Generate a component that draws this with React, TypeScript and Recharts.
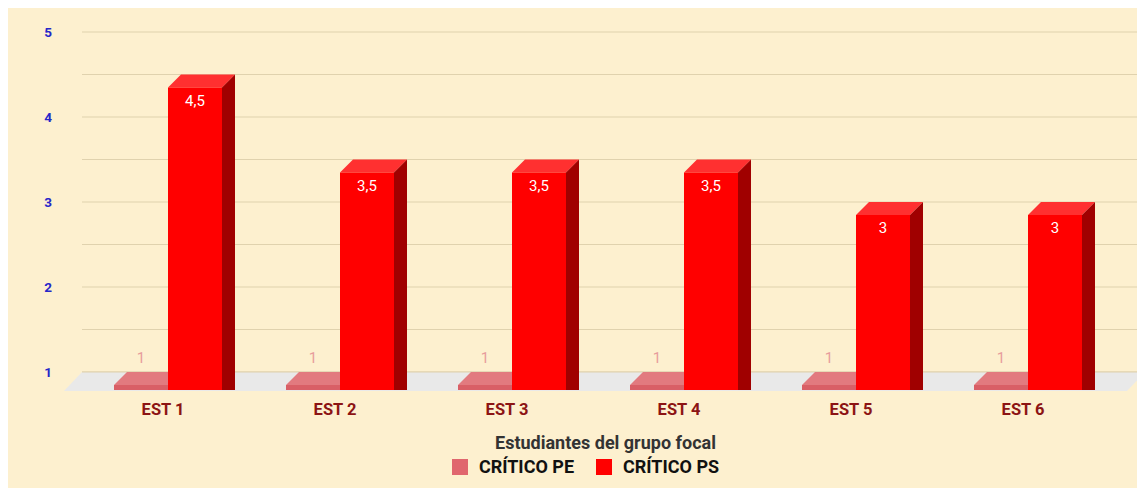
import { BarChart, Bar, XAxis, YAxis, CartesianGrid, Legend, LabelList, ReferenceArea } from "recharts";

// datos
const estudiantes = ["EST 1", "EST 2", "EST 3", "EST 4", "EST 5", "EST 6"];
const criticoPE = [1, 1, 1, 1, 1, 1];
const criticoPS = [4.5, 3.5, 3.5, 3.5, 3, 3];
const ticksY = [1, 1.5, 2, 2.5, 3, 3.5, 4, 4.5, 5];

const data = estudiantes.map((est, i) => ({ est, pe: criticoPE[i], ps: criticoPS[i] }));

const FONT = "Roboto, 'Noto Sans', sans-serif";
const DX = 13; // profundidad 3D de las barras
const DY = 13;
const SLAB = 5;
const PAD_L = 13;
const PAD_R = 18;

const caras = {
  pe: { front: "#d95f66", top: "#e27a7f", side: "#b94a50", legend: "#e0666e", label: "#e79c9c" },
  ps: { front: "#ff0000", top: "#ff3030", side: "#a00000", legend: "#ff0000", label: "#ffffff" },
};

const fmt = (v: number) => String(v).replace(".", ",");

function barra3D(tipo: "pe" | "ps") {
  return (props: any) => {
    const { x, y, width, height } = props;
    const c = caras[tipo];
    const base = y + height;
    const fx = x - DX;
    const fy = y + DY;
    const fb = base + DY + SLAB;
    return (
      <g>
        <polygon points={`${x},${y} ${x + width},${y} ${fx + width},${fy} ${fx},${fy}`} fill={c.top} />
        <polygon points={`${x + width},${y} ${fx + width},${fy} ${fx + width},${fb} ${x + width},${fb}`} fill={c.side} />
        <rect x={fx} y={fy} width={width} height={fb - fy} fill={c.front} />
      </g>
    );
  };
}

// piso gris en perspectiva bajo las barras (cubre también el padding del eje)
const piso = (props: any) => {
  const { x, y, width, height } = props;
  const b = y + height;
  const l = x - PAD_L;
  const r = x + width + PAD_R;
  return (
    <g>
      <polygon points={`${l},${b} ${r},${b} ${r - 18},${b + 19} ${l - 18},${b + 19}`} fill="#e9e9e9" />
      <line x1={l} x2={r} y1={b} y2={b} stroke="#e0d2ae" strokeWidth={1.2} />
    </g>
  );
};

const etiquetaPS = (props: any) => {
  const { x, y, width, value } = props;
  return (
    <text x={x - DX + width / 2} y={y + DY + 18} textAnchor="middle" fill="#ffffff" fontSize={15} fontFamily={FONT}>
      {fmt(value)}
    </text>
  );
};

const etiquetaPE = (props: any) => {
  const { x, y, width, value } = props;
  return (
    <text x={x - DX + width / 2} y={y - 9} textAnchor="middle" fill={caras.pe.label} fontSize={15} fontFamily={FONT}>
      {fmt(value)}
    </text>
  );
};

const tickY = (props: any) => {
  const { x, y, payload } = props;
  if (!Number.isInteger(payload.value)) return <g />;
  return (
    <text x={x - 26} y={y + 5} textAnchor="middle" fill="#2626c9" fontSize={13.5} fontWeight={700} fontFamily={FONT}>
      {payload.value}
    </text>
  );
};

const tickX = (props: any) => {
  const { x, y, payload } = props;
  return (
    <text x={x - 18} y={y + 35} textAnchor="middle" fill="#8c1414" fontSize={16.5} fontWeight={700} fontFamily={FONT}>
      {payload.value}
    </text>
  );
};

const tituloX = (props: any) => {
  const { x, y, width } = props.viewBox;
  return (
    <text x={x + width / 2 - 8} y={y + 77} textAnchor="middle" fill="#333333" fontSize={18} fontWeight={700} fontFamily={FONT}>
      Estudiantes del grupo focal
    </text>
  );
};

const leyenda = () => (
  <div style={{ display: "flex", justifyContent: "center", gap: 22, transform: "translateX(9px)", fontFamily: FONT }}>
    {[
      { t: "CRÍTICO PE", c: caras.pe.legend },
      { t: "CRÍTICO PS", c: caras.ps.legend },
    ].map((it) => (
      <div key={it.t} style={{ display: "flex", alignItems: "center", gap: 11 }}>
        <span style={{ width: 16, height: 16, background: it.c, display: "inline-block" }} />
        <span style={{ fontSize: 18, fontWeight: 700, color: "#111" }}>{it.t}</span>
      </div>
    ))}
  </div>
);

export default function App() {
  return (
    <div style={{ width: 1137, height: 480, background: "#fdf0cf" }}>
      <BarChart width={1137} height={480} data={data} margin={{ top: 24, right: 0, left: 0, bottom: 8 }} barSize={54} barGap={0}>
        <CartesianGrid vertical={false} stroke="#e0d2ae" strokeWidth={1.2} />
        <ReferenceArea y1={1} y2={1.25} shape={piso} ifOverflow="visible" />
        <XAxis
          dataKey="est"
          axisLine={false}
          tickLine={false}
          height={84}
          padding={{ left: PAD_L, right: PAD_R }}
          tick={tickX}
          interval={0}
          label={tituloX}
        />
        <YAxis
          domain={[1, 5]}
          ticks={ticksY}
          width={74}
          axisLine={false}
          tickLine={false}
          tick={tickY}
          interval={0}
        />
        <Legend verticalAlign="bottom" height={24} content={leyenda} />
        <Bar dataKey="pe" shape={barra3D("pe")} isAnimationActive={false}>
          <LabelList dataKey="pe" content={etiquetaPE} />
        </Bar>
        <Bar dataKey="ps" shape={barra3D("ps")} isAnimationActive={false}>
          <LabelList dataKey="ps" content={etiquetaPS} />
        </Bar>
      </BarChart>
    </div>
  );
}
